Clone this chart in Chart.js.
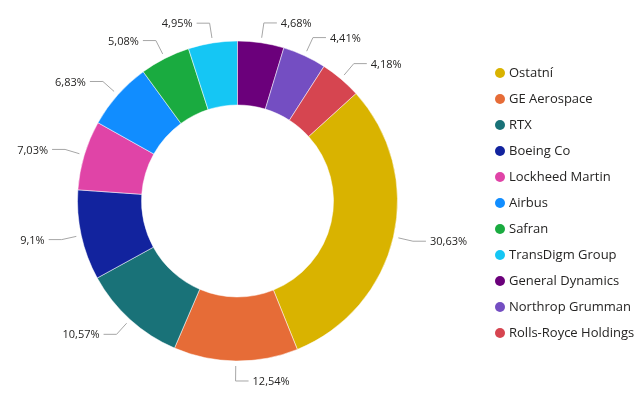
<!DOCTYPE html>
<html>
<head>
<meta charset="utf-8">
<script src="https://cdn.jsdelivr.net/npm/chart.js@4/dist/chart.umd.min.js"></script>
<style>
  body { margin: 0; background: #fff; font-family: "Open Sans", "Noto Sans", sans-serif; }
  #wrap { position: relative; width: 642px; height: 396px; }
  #legend { position: absolute; left: 495px; top: 59px; margin: 0; padding: 0; list-style: none; }
  #legend li { height: 26px; line-height: 26px; font-size: 13px; color: #252423; white-space: nowrap; }
  #legend span { display: inline-block; width: 10px; height: 10px; border-radius: 50%; margin-right: 4px; vertical-align: -1px; }
</style>
</head>
<body>
<div id="wrap">
  <canvas id="donut" width="642" height="396"></canvas>
  <ul id="legend"></ul>
</div>
<script>
// Podíl na trhu (%)
const companies = ['Ostatní', 'GE Aerospace', 'RTX', 'Boeing Co', 'Lockheed Martin', 'Airbus',
  'Safran', 'TransDigm Group', 'General Dynamics', 'Northrop Grumman', 'Rolls-Royce Holdings'];
const shares = [30.63, 12.54, 10.57, 9.1, 7.03, 6.83, 5.08, 4.95, 4.68, 4.41, 4.18];
const colors = ['#D9B300', '#E66C37', '#197278', '#12239E', '#E044A7', '#118DFF',
  '#1AAB40', '#15C6F4', '#6B007B', '#744EC2', '#D64550'];

// první řez (General Dynamics) začíná nahoře -> otočení o součet posledních tří
const tail = shares.slice(8).reduce((a, b) => a + b, 0);

// popisky mimo prstenec s vodící čarou
const outsideLabels = {
  id: 'outsideLabels',
  afterDatasetsDraw(chart) {
    const ctx = chart.ctx;
    const meta = chart.getDatasetMeta(0);
    ctx.save();
    ctx.font = '11px "Open Sans", "Noto Sans", sans-serif';
    ctx.textBaseline = 'middle';
    meta.data.forEach((arc, i) => {
      const p = arc.getProps(['x', 'y', 'startAngle', 'endAngle', 'outerRadius'], true);
      const mid = (p.startAngle + p.endAngle) / 2;
      const cos = Math.cos(mid), sin = Math.sin(mid);
      const x1 = p.x + cos * (p.outerRadius + 5), y1 = p.y + sin * (p.outerRadius + 5);
      const x2 = p.x + cos * (p.outerRadius + 20), y2 = p.y + sin * (p.outerRadius + 20);
      const dir = cos >= -0.05 ? 1 : -1;
      const x3 = x2 + dir * 13;
      ctx.strokeStyle = '#a6a6a6';
      ctx.lineWidth = 1;
      ctx.beginPath();
      ctx.moveTo(x1, y1);
      ctx.lineTo(x2, y2);
      ctx.lineTo(x3, y2);
      ctx.stroke();
      ctx.fillStyle = '#252423';
      ctx.textAlign = dir > 0 ? 'left' : 'right';
      const txt = String(shares[i]).replace('.', ',') + '%';
      ctx.fillText(txt, x3 + dir * 4, y2 + 1);
    });
    ctx.restore();
  }
};

new Chart(document.getElementById('donut'), {
  type: 'doughnut',
  data: {
    labels: companies,
    datasets: [{
      data: shares,
      backgroundColor: colors,
      borderColor: '#ffffff',
      borderWidth: 0.5
    }]
  },
  options: {
    responsive: false,
    animation: false,
    rotation: tail / 100 * 360,
    cutout: '60%',
    radius: 160,
    layout: { padding: { left: 77, right: 244, top: 41, bottom: 35 } },
    plugins: { legend: { display: false }, tooltip: { enabled: false } }
  },
  plugins: [outsideLabels]
});

document.getElementById('legend').innerHTML = companies.map((c, i) =>
  `<li><span style="background:${colors[i]}"></span>${c}</li>`).join('');
</script>
</body>
</html>
